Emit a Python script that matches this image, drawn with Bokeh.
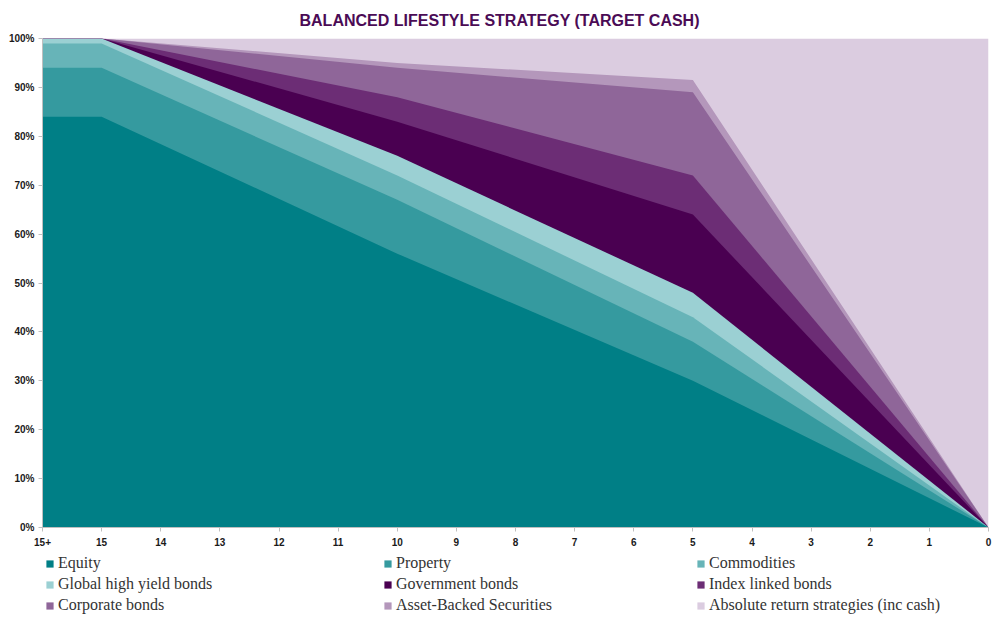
import numpy as np
from bokeh.plotting import figure
from bokeh.layouts import column
from bokeh.models import ColumnDataSource, Legend, LegendItem, Range1d, FixedTicker
from bokeh.embed import file_html
from bokeh.resources import INLINE

# Years to target; "15+" is the growth phase before de-risking starts
tick_labels = ["15+", "15", "14", "13", "12", "11", "10", "9", "8",
               "7", "6", "5", "4", "3", "2", "1", "0"]

# Points where the allocation is defined (years to target)
years = ["15+", "15", "10", "5", "0"]

# Allocations in % of portfolio
equity = [84, 84, 56, 30, 0]
property_ = [10, 10, 11, 8, 0]
commodities = [5, 5, 5, 5, 0]
high_yield = [1, 1, 4, 5, 0]
government = [0, 0, 7, 16, 0]
index_linked = [0, 0, 5, 8, 0]
corporate = [0, 0, 6, 17, 0]
abs_sec = [0, 0, 1, 2.5, 0]
absolute_return = [0, 0, 5, 8.5, 100]

series_names = ["Equity", "Property", "Commodities", "Global high yield bonds",
                "Government bonds", "Index linked bonds", "Corporate bonds",
                "Asset-Backed Securities", "Absolute return strategies (inc cash)"]
series_values = [equity, property_, commodities, high_yield, government,
                 index_linked, corporate, abs_sec, absolute_return]
colors = ["#007F86", "#359A9F", "#67B4B8", "#9BD0D3", "#4A0051",
          "#6C2D75", "#8F6699", "#B497BB", "#DBCCE0"]

x = [tick_labels.index(y) for y in years]
tops = np.cumsum(np.array(series_values, dtype=float), axis=0)

p = figure(width=1000, height=550, output_backend="svg", toolbar_location=None,
           x_range=Range1d(0, len(tick_labels) - 1), y_range=Range1d(0, 100),
           min_border_left=42, min_border_right=12, min_border_top=38,
           min_border_bottom=23)

# Each band is drawn from zero up to its cumulative top, widest first,
# so neighbouring bands meet without seams.
for i in reversed(range(len(series_names))):
    src = ColumnDataSource(dict(x=x, y1=[0] * len(x), y2=tops[i]))
    p.varea(x="x", y1="y1", y2="y2", source=src, fill_color=colors[i])

p.title.text = "BALANCED LIFESTYLE STRATEGY (TARGET CASH)"
p.title.align = "left"
p.title.offset = 257
p.title.text_font = "Liberation Sans"
p.title.text_font_style = "bold"
p.title.text_font_size = "16px"
p.title.text_color = "#4B0B55"
p.title.standoff = 19

p.grid.visible = False
p.outline_line_color = None

axis_color = "#BFBFBF"
for ax in (p.xaxis[0], p.yaxis[0]):
    ax.axis_line_color = axis_color
    ax.major_tick_line_color = axis_color
    ax.minor_tick_line_color = None
    ax.major_tick_in = 0
    ax.major_tick_out = 4
    ax.major_label_text_font = "Liberation Sans"
    ax.major_label_text_font_style = "bold"
    ax.major_label_text_font_size = "10px"
    ax.major_label_text_color = "#1A1A1A"

p.xaxis.ticker = FixedTicker(ticks=list(range(len(tick_labels))))
p.xaxis.major_label_overrides = {i: t for i, t in enumerate(tick_labels)}
p.xaxis.major_label_standoff = 6

p.yaxis.ticker = FixedTicker(ticks=list(range(0, 101, 10)))
p.yaxis.major_label_overrides = {v: f"{v}%" for v in range(0, 101, 10)}
p.yaxis.major_label_standoff = 4

# Legend strip beneath the chart: three columns, filled row by row
lg = figure(width=1000, height=70, output_backend="svg", toolbar_location=None,
            x_range=Range1d(0, 1), y_range=Range1d(0, 1),
            x_axis_location=None, y_axis_location=None,
            min_border=0, outline_line_color=None)
lg.grid.visible = False

# column offsets, measured from the chart frame's left edge
col_x = [3, 341, 654]
for c in range(3):
    items = []
    for r in range(3):
        i = r * 3 + c
        # zero-size swatch source, parked outside the strip's range
        swatch = lg.varea(x=[-1], y1=[-1], y2=[-1], fill_color=colors[i])
        items.append(LegendItem(label=series_names[i], renderers=[swatch]))
    leg = Legend(items=items, location=(col_x[c], 5), orientation="vertical",
                 glyph_width=9, glyph_height=9, label_standoff=4,
                 label_height=20, spacing=1, padding=0, margin=0,
                 border_line_color=None, background_fill_alpha=0,
                 label_text_font="Liberation Serif", label_text_font_size="16px",
                 label_text_color="#333333")
    lg.add_layout(leg, "center")

open("out.html", "w").write(file_html(column(p, lg, spacing=0), INLINE))
